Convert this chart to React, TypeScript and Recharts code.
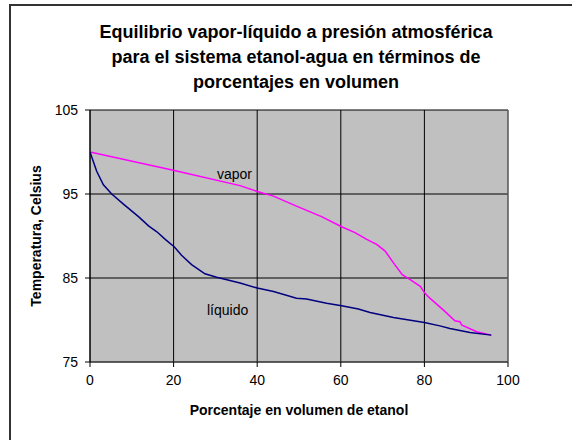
import React from 'react';
import { LineChart, Line, XAxis, YAxis, CartesianGrid, ReferenceLine } from 'recharts';

const titleLines = [
  'Equilibrio vapor-líquido a presión atmosférica',
  'para el sistema etanol-agua en términos de',
  'porcentajes en volumen',
];
const xTicks = [0, 20, 40, 60, 80, 100];
const yTicks = [75, 85, 95, 105];
const xLabel = 'Porcentaje en volumen de etanol';
const yLabel = 'Temperatura, Celsius';

const liquidoX = [0, 1.6, 3.2, 5.2, 8, 11.6, 14, 16, 18, 20.2, 21.9, 24.3, 27.5, 30.3, 35.9, 40, 43.9, 49.4, 51.8, 56.6, 60.2, 64.2, 67, 72.6, 77.4, 80, 83.7, 86.1, 90.9, 96];
const liquidoT = [100, 97.7, 96.1, 95.0, 93.8, 92.3, 91.2, 90.5, 89.6, 88.7, 87.7, 86.6, 85.5, 85.1, 84.4, 83.8, 83.4, 82.6, 82.5, 82.0, 81.7, 81.3, 80.9, 80.3, 79.9, 79.7, 79.3, 79.0, 78.5, 78.2];
const vaporX = [0, 20.2, 35.9, 40, 43.9, 49.4, 55.4, 60.2, 63.4, 66.2, 68.6, 70.6, 72.6, 74.7, 76.6, 79, 80.1, 81.3, 84.5, 87.3, 88.5, 88.9, 92.5, 96];
const vaporT = [100, 97.8, 96.0, 95.3, 94.75, 93.55, 92.3, 91.1, 90.4, 89.6, 89.0, 88.2, 86.8, 85.4, 84.8, 84.0, 83.2, 82.6, 81.2, 79.9, 79.8, 79.4, 78.6, 78.2];

const liquidoData = liquidoX.map((x, i) => ({ x, t: liquidoT[i] }));
const vaporData = vaporX.map((x, i) => ({ x, t: vaporT[i] }));

const FONT = '"Liberation Sans", Arial, sans-serif';

export default function App() {
  return (
    <div style={{ position: 'absolute', left: 0, top: 0, width: 572, height: 440, overflow: 'hidden', background: '#fff', fontFamily: FONT }}>
      <div style={{ position: 'absolute', left: 9, top: 4, width: 620, height: 520, border: '2px solid #333', boxSizing: 'border-box' }} />
      <div style={{ position: 'absolute', left: 46, width: 500, top: 20, textAlign: 'center', fontSize: 18, fontWeight: 'bold', lineHeight: '25px', color: '#000' }}>
        {titleLines.map((l) => (<div key={l}>{l}</div>))}
      </div>
      <div style={{ position: 'absolute', left: 0, top: 0 }}>
        <LineChart width={572} height={440} margin={{ top: 110, right: 64, bottom: 48, left: 0 }}>
          <CartesianGrid stroke="#000" strokeWidth={1} fill="#C0C0C0" fillOpacity={1} />
          <XAxis
            type="number"
            dataKey="x"
            domain={[0, 100]}
            ticks={xTicks}
            allowDataOverflow
            height={30}
            tickSize={5}
            tickMargin={8}
            stroke="#000"
            tick={{ fill: '#000', fontSize: 14, fontFamily: FONT }}
            axisLine={{ stroke: '#444' }}
            tickLine={{ stroke: '#000' }}
            label={{
              content: (props: any) => {
                const vb = props.viewBox;
                return (
                  <text x={vb.x + vb.width / 2} y={415} textAnchor="middle" fontSize={14} fontWeight="bold" fontFamily={FONT} fill="#000">
                    {xLabel}
                  </text>
                );
              },
            }}
          />
          <YAxis
            type="number"
            domain={[75, 105]}
            ticks={yTicks}
            allowDataOverflow
            width={90}
            tickSize={5}
            tickMargin={7}
            stroke="#000"
            tick={{ fill: '#000', fontSize: 14, fontFamily: FONT }}
            axisLine={{ stroke: '#000' }}
            tickLine={{ stroke: '#000' }}
            label={{
              content: (props: any) => {
                const vb = props.viewBox;
                const cx = 36;
                const cy = vb.y + vb.height / 2;
                return (
                  <text x={cx} y={cy} textAnchor="middle" dominantBaseline="central" transform={`rotate(-90 ${cx} ${cy})`} fontSize={14} fontWeight="bold" fontFamily={FONT} fill="#000">
                    {yLabel}
                  </text>
                );
              },
            }}
          />
          <ReferenceLine x={100} stroke="#808080" strokeWidth={1} />
          <Line data={vaporData} dataKey="t" type="linear" stroke="#FF00FF" strokeWidth={1.5} dot={false} isAnimationActive={false} />
          <Line data={liquidoData} dataKey="t" type="linear" stroke="#000080" strokeWidth={1.5} dot={false} isAnimationActive={false} />
        </LineChart>
      </div>
      <div style={{ position: 'absolute', left: 217, top: 166, fontSize: 14, color: '#000', lineHeight: '16px' }}>vapor</div>
      <div style={{ position: 'absolute', left: 207, top: 302, fontSize: 14, color: '#000', lineHeight: '16px' }}>líquido</div>
    </div>
  );
}
